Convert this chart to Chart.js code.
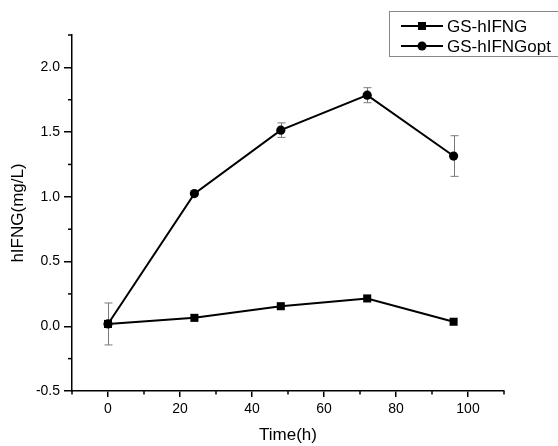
<!DOCTYPE html>
<html>
<head>
<meta charset="utf-8">
<script src="https://cdn.jsdelivr.net/npm/chart.js@4"></script>
<style>
html,body{margin:0;padding:0;background:#fff;}
#wrap{width:558px;height:446px;position:relative;}
</style>
</head>
<body>
<div id="wrap"><canvas id="c" width="558" height="446"></canvas></div>
<script>
const timePoints = [0, 24, 48, 72, 96];
const seriesNames = ['GS-hIFNG', 'GS-hIFNGopt'];
const hIFNG = [0.018, 0.065, 0.155, 0.215, 0.035];
const hIFNGopt = [0.018, 1.025, 1.515, 1.785, 1.315];
const hIFNGoptErr = [0.162, 0, 0.056, 0.058, 0.157];
const hIFNGErr = [0, 0, 0, 0, 0];
const xTicksMajor = [0, 20, 40, 60, 80, 100];
const yTicksMajor = [-0.5, 0.0, 0.5, 1.0, 1.5, 2.0];

const FONT = 'Liberation Sans, Arial, Helvetica, sans-serif';

function toPts(vals){ return timePoints.map((t,i)=>({x:t,y:vals[i]})); }

const isMajorX = v => xTicksMajor.some(m => Math.abs(m - v) < 1e-6);
const isMajorY = v => yTicksMajor.some(m => Math.abs(m - v) < 1e-6);

const errorBars = {
  id: 'errorBars',
  beforeDatasetsDraw(chart){
    const {ctx, scales:{x, y}} = chart;
    const errs = [hIFNGErr, hIFNGoptErr];
    ctx.save();
    ctx.strokeStyle = '#7a7a7a';
    ctx.lineWidth = 1;
    chart.data.datasets.forEach((ds, di) => {
      ds.data.forEach((p, i) => {
        const e = errs[di][i];
        if (!e) return;
        const px = Math.round(x.getPixelForValue(p.x)) + 0.5;
        const top = y.getPixelForValue(p.y + e);
        const bot = y.getPixelForValue(p.y - e);
        ctx.beginPath();
        ctx.moveTo(px, top); ctx.lineTo(px, bot);
        ctx.moveTo(px - 4, top); ctx.lineTo(px + 4, top);
        ctx.moveTo(px - 4, bot); ctx.lineTo(px + 4, bot);
        ctx.stroke();
      });
    });
    ctx.restore();
  }
};

const minorTicks = {
  id: 'minorTicks',
  afterDraw(chart){
    const {ctx, scales:{x, y}, chartArea} = chart;
    ctx.save();
    ctx.strokeStyle = '#000';
    ctx.lineWidth = 1.5;
    x.ticks.forEach(t => {
      if (isMajorX(t.value)) return;
      const px = x.getPixelForValue(t.value);
      ctx.beginPath();
      ctx.moveTo(px, chartArea.bottom); ctx.lineTo(px, chartArea.bottom + 3.5);
      ctx.stroke();
    });
    y.ticks.forEach(t => {
      if (isMajorY(t.value)) return;
      const py = y.getPixelForValue(t.value);
      ctx.beginPath();
      ctx.moveTo(chartArea.left, py); ctx.lineTo(chartArea.left - 4, py);
      ctx.stroke();
    });
    ctx.restore();
  }
};

const customLegend = {
  id: 'customLegend',
  afterDraw(chart){
    const ctx = chart.ctx;
    ctx.save();
    ctx.strokeStyle = '#888';
    ctx.lineWidth = 1;
    ctx.strokeRect(389.5, 11.5, 200, 45);
    const rows = [26, 46];
    chart.data.datasets.forEach((ds, i) => {
      const yy = rows[i];
      ctx.strokeStyle = '#000';
      ctx.lineWidth = 2;
      ctx.beginPath();
      ctx.moveTo(401, yy); ctx.lineTo(443, yy);
      ctx.stroke();
      ctx.fillStyle = '#000';
      if (ds.pointStyle === 'rect') {
        ctx.fillRect(418, yy - 4, 8, 8);
      } else {
        ctx.beginPath(); ctx.arc(422, yy, 4.5, 0, Math.PI*2); ctx.fill();
      }
      ctx.font = '17px ' + FONT;
      ctx.textBaseline = 'middle';
      ctx.textAlign = 'left';
      ctx.fillText(ds.label, 447, yy + 1);
    });
    ctx.restore();
  }
};

new Chart(document.getElementById('c'), {
  type: 'line',
  data: {
    datasets: [
      {
        label: seriesNames[0],
        data: toPts(hIFNG),
        borderColor: '#000', backgroundColor: '#000',
        borderWidth: 2, pointStyle: 'rect', pointRadius: 5.7,
        pointBorderWidth: 0, tension: 0
      },
      {
        label: seriesNames[1],
        data: toPts(hIFNGopt),
        borderColor: '#000', backgroundColor: '#000',
        borderWidth: 2, pointStyle: 'circle', pointRadius: 4.6,
        pointBorderWidth: 0, tension: 0
      }
    ]
  },
  options: {
    responsive: false,
    animation: false,
    devicePixelRatio: 1,
    layout: { padding: { top: 35, right: 54, left: 0, bottom: 0 } },
    plugins: { legend: { display: false }, tooltip: { enabled: false } },
    scales: {
      x: {
        type: 'linear', min: -10, max: 110,
        afterFit: s => { s.height = 55; },
        ticks: {
          stepSize: 10, color: '#000', padding: 4,
          font: { family: FONT, size: 14 },
          maxRotation: 0, autoSkip: false,
          callback: v => isMajorX(v) ? String(v) : ''
        },
        grid: {
          drawOnChartArea: false, drawTicks: true, tickLength: 6, lineWidth: 1.5,
          color: c => (c.tick && isMajorX(c.tick.value)) ? '#000' : 'rgba(0,0,0,0)'
        },
        border: { display: true, color: '#000', width: 1.5 },
        title: {
          display: true, text: 'Time(h)', color: '#000',
          font: { family: FONT, size: 17 }, padding: { top: 0, bottom: 0 }
        }
      },
      y: {
        type: 'linear', min: -0.5, max: 2.25,
        afterFit: s => { s.width = 72; },
        ticks: {
          stepSize: 0.25, color: '#000', padding: 4,
          font: { family: FONT, size: 14 }, autoSkip: false,
          callback: v => isMajorY(v) ? Number(v).toFixed(1) : ''
        },
        grid: {
          drawOnChartArea: false, drawTicks: true, tickLength: 8, lineWidth: 1.5,
          color: c => (c.tick && isMajorY(c.tick.value)) ? '#000' : 'rgba(0,0,0,0)'
        },
        border: { display: true, color: '#000', width: 1.5 },
        title: {
          display: true, text: 'hIFNG(mg/L)', color: '#000',
          font: { family: FONT, size: 17 }, padding: { top: 8, bottom: 0 }
        }
      }
    }
  },
  plugins: [errorBars, minorTicks, customLegend]
});
</script>
</body>
</html>
